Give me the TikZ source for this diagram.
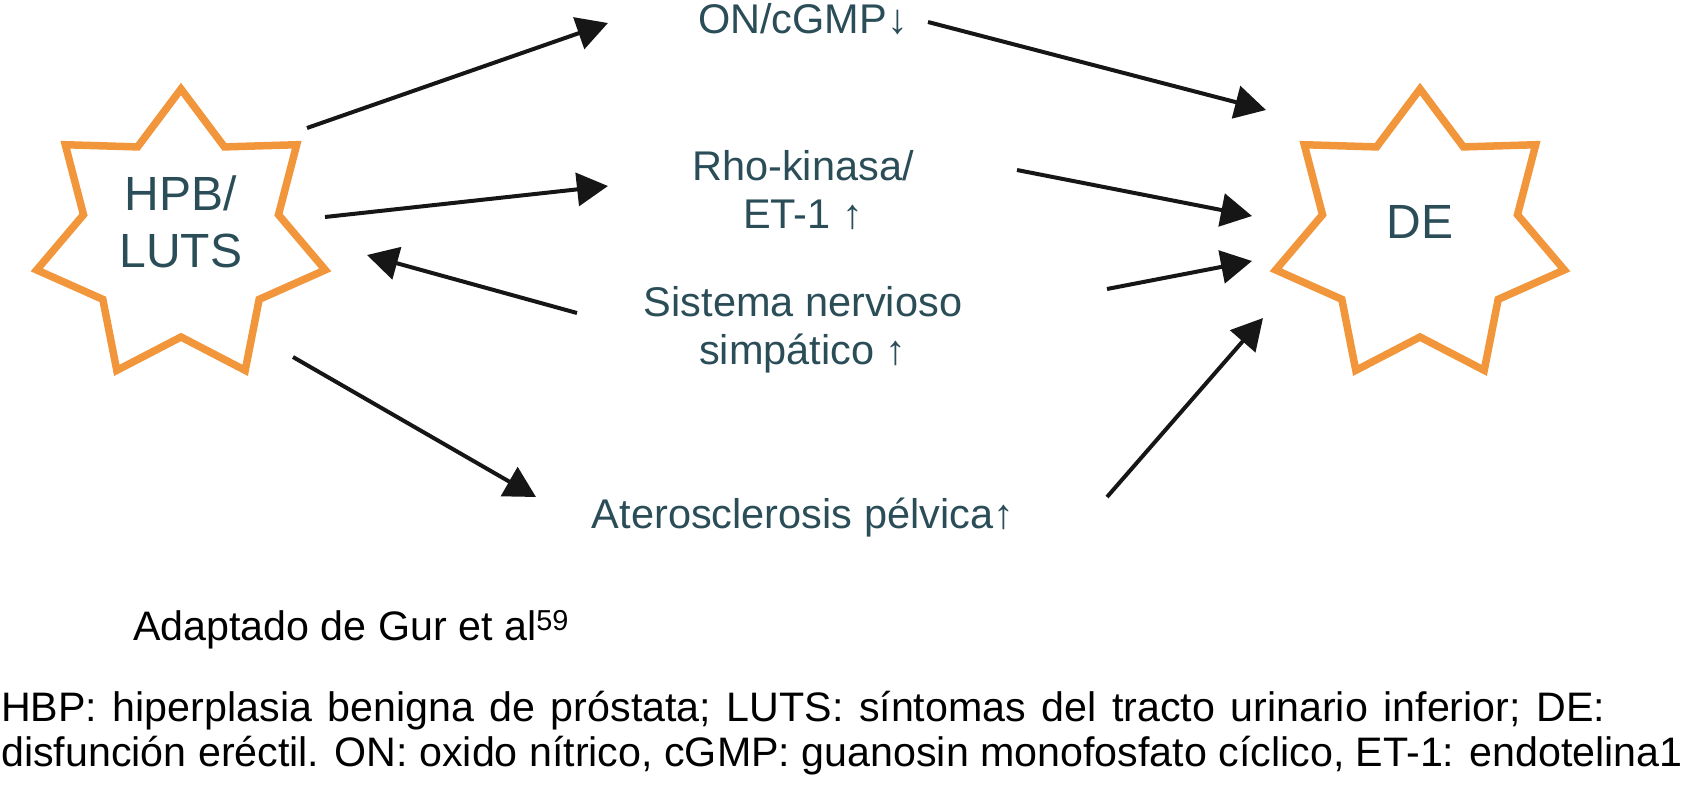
\documentclass[tikz,border=0pt]{standalone}
\usepackage{fontspec}
\setmainfont{Liberation Sans}
\usetikzlibrary{arrows.meta}
\definecolor{starorange}{RGB}{242,150,60}
\definecolor{tealtext}{RGB}{42,77,87}
\definecolor{arrowblack}{RGB}{22,22,22}
\begin{document}
\begin{tikzpicture}[x=1pt,y=-1pt,
  starspot/.style={circle, minimum size=296pt, inner sep=0pt},
  starline/.style={draw=starorange, line width=7.5pt, line join=miter, miter limit=10},
  bigtext/.style={text=tealtext, font=\fontsize{48}{57}\selectfont, align=center, inner sep=0pt, anchor=base},
  midtext/.style={text=tealtext, font=\fontsize{41.5}{48}\selectfont, align=center, inner sep=0pt, anchor=base},
  notetext/.style={text=black, font=\fontsize{41.2}{45}\selectfont, align=left, inner sep=0pt, anchor=base west},
  arr/.style={draw=arrowblack, line width=4pt, -{Triangle[length=31pt,width=33pt]}}]
\useasboundingbox (0,0) rectangle (1695,788);

% star nodes (seven-pointed outlines drawn around them)
\node[starspot] (hpb) at (181,237) {};
\node[starspot] (de) at (1420,237) {};
\begin{scope}[shift={(hpb.center)}]
  \draw[starline] plot[samples at={0,...,13}, variable=\k] ({270+\k*360/14}:{148-48*mod(\k,2)}) -- cycle;
\end{scope}
\begin{scope}[shift={(de.center)}]
  \draw[starline] plot[samples at={0,...,13}, variable=\k] ({270+\k*360/14}:{148-48*mod(\k,2)}) -- cycle;
\end{scope}
\node[bigtext] (hpbt) at (181,267) {HPB/\\LUTS};
\node[bigtext] (det) at (1420,238) {DE};

% middle column (base anchor = baseline of last line)
\node[midtext] (on) at (803,33) {ON/cGMP↓};
\node[midtext] (rho) at (803,228) {Rho-kinasa/\\ET-1 ↑};
\node[midtext] (sis) at (803,364) {Sistema nervioso\\simpático ↑};
\node[midtext] (ate) at (803,528) {Aterosclerosis pélvica↑};

% notes
\node[notetext] (src) at (133,640) {Adaptado de Gur et al\textsuperscript{59}};
\node[notetext] (leg) at (1,766) {{\spaceskip=15.5pt\relax HBP: hiperplasia benigna de próstata; LUTS: síntomas del tracto urinario inferior; DE:}\\disfunción eréctil. ON: oxido nítrico, cGMP: guanosin monofosfato cíclico, ET-1: endotelina1};

% connectors
\draw[arr] ([shift={(126,-109)}]hpb.center) -- ([shift={(-195,-10)}]on.base);
\draw[arr] ([shift={(125,-11)}]on.base) -- ([shift={(-154,-127)}]de.center);
\draw[arr] ([shift={(144,-20)}]hpb.center) -- ([shift={(-195,-42)}]rho.base);
\draw[arr] ([shift={(214,-58)}]rho.base) -- ([shift={(-168,-21)}]de.center);
\draw[arr] ([shift={(-226,-51)}]sis.base) -- ([shift={(186,18)}]hpb.center);
\draw[arr] ([shift={(304,-75)}]sis.base) -- ([shift={(-168,24)}]de.center);
\draw[arr] ([shift={(112,120)}]hpb.center) -- ([shift={(-267,-31)}]ate.base);
\draw[arr] ([shift={(304,-31)}]ate.base) -- ([shift={(-157,81)}]de.center);
\end{tikzpicture}
\end{document}
